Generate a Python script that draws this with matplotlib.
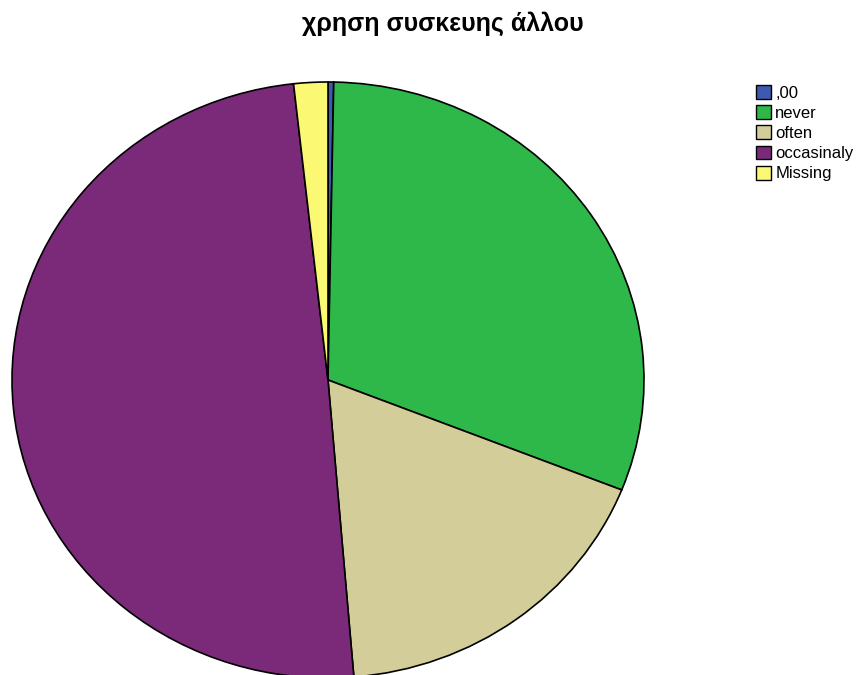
import matplotlib
matplotlib.use("Agg")
import matplotlib.pyplot as plt
from matplotlib.patches import Patch

# response counts for "use of another person's device"
labels = [',00', 'never', 'often', 'occasinaly', 'Missing']
counts = [1, 106, 61, 171, 6]
colors = ['#3C5AAE', '#2EB84A', '#D3CE99', '#7B2A7A', '#FBF874']

plt.rcParams['font.family'] = ['Liberation Sans', 'DejaVu Sans']

fig = plt.figure(figsize=(8.63, 6.75), dpi=100)
W, H = 863, 675
# pie drawn in a stretched axes, so it comes out slightly elliptical
ax = fig.add_axes([12 / W, (H - 678) / H, 632 / W, 596 / H])
ax.pie(counts, colors=colors, startangle=90, counterclock=False,
       radius=1, wedgeprops=dict(edgecolor='black', linewidth=1.2))
ax.set_aspect('auto')
ax.set_xlim(-1, 1)
ax.set_ylim(-1, 1)
ax.axis('off')

fig.text(443 / W, 1 - 24 / H, 'χρηση συσκευης άλλου', ha='center', va='center',
         fontsize=18, fontweight='bold')

handles = [Patch(facecolor=c, edgecolor='black', linewidth=1.0) for c in colors]
fig.legend(handles, labels, loc='upper left', bbox_to_anchor=(756 / W, 1 - 85 / H),
           frameon=False, fontsize=12, handlelength=0.9, handleheight=0.9,
           handletextpad=0.25, labelspacing=0.27, borderaxespad=0, borderpad=0)

fig.savefig('out.png', dpi=100)
